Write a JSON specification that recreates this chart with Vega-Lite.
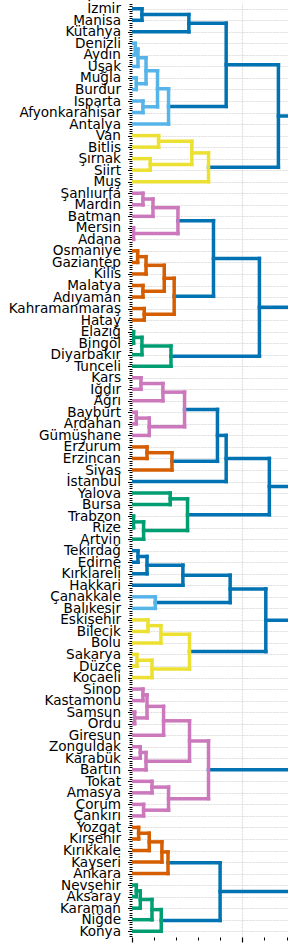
{
  "$schema": "https://vega.github.io/schema/vega-lite/v6.json",
  "autosize": {"type": "none"},
  "padding": {"left": 132, "top": 3, "right": 0, "bottom": 11},
  "width": 156,
  "height": 934,
  "background": "white",
  "config": {
    "view": {"stroke": null},
    "font": "DejaVu Sans"
  },
  "data": {
    "values": [
      {"id": 1, "yl": 0, "hl": 0, "yr": 1, "hr": 0, "h": 0.090, "c": "above"},
      {"id": 2, "yl": 0.5, "hl": 0.090, "yr": 2, "hr": 0, "h": 0.515, "c": "above"},
      {"id": 3, "yl": 3, "hl": 0, "yr": 4, "hr": 0, "h": 0.030, "c": "C1"},
      {"id": 4, "yl": 3.5, "hl": 0.030, "yr": 5, "hr": 0, "h": 0.054, "c": "C1"},
      {"id": 5, "yl": 6, "hl": 0, "yr": 7, "hr": 0, "h": 0.039, "c": "C1"},
      {"id": 6, "yl": 4.25, "hl": 0.054, "yr": 6.5, "hr": 0.039, "h": 0.127, "c": "C1"},
      {"id": 7, "yl": 8, "hl": 0, "yr": 9, "hr": 0, "h": 0.099, "c": "C1"},
      {"id": 8, "yl": 5.375, "hl": 0.127, "yr": 8.5, "hr": 0.099, "h": 0.231, "c": "C1"},
      {"id": 9, "yl": 6.9375, "hl": 0.231, "yr": 10, "hr": 0, "h": 0.331, "c": "C1"},
      {"id": 10, "yl": 1.25, "hl": 0.515, "yr": 8.46875, "hr": 0.331, "h": 0.853, "c": "above"},
      {"id": 11, "yl": 11, "hl": 0, "yr": 12, "hr": 0, "h": 0.241, "c": "C2"},
      {"id": 12, "yl": 13, "hl": 0, "yr": 14, "hr": 0, "h": 0.165, "c": "C2"},
      {"id": 13, "yl": 11.5, "hl": 0.241, "yr": 13.5, "hr": 0.165, "h": 0.542, "c": "C2"},
      {"id": 14, "yl": 12.5, "hl": 0.542, "yr": 15, "hr": 0, "h": 0.693, "c": "C2"},
      {"id": 15, "yl": 4.859, "hl": 0.853, "yr": 13.75, "hr": 0.693, "h": 1.326, "c": "above"},
      {"id": 16, "yl": 16, "hl": 0, "yr": 17, "hr": 0, "h": 0.099, "c": "C3"},
      {"id": 17, "yl": 16.5, "hl": 0.099, "yr": 18, "hr": 0, "h": 0.190, "c": "C3"},
      {"id": 18, "yl": 19, "hl": 0, "yr": 20, "hr": 0, "h": 0.014, "c": "C3"},
      {"id": 19, "yl": 17.25, "hl": 0.190, "yr": 19.5, "hr": 0.014, "h": 0.416, "c": "C3"},
      {"id": 20, "yl": 21, "hl": 0, "yr": 22, "hr": 0, "h": 0.051, "c": "C4"},
      {"id": 21, "yl": 21.5, "hl": 0.051, "yr": 23, "hr": 0, "h": 0.127, "c": "C4"},
      {"id": 22, "yl": 24, "hl": 0, "yr": 25, "hr": 0, "h": 0.099, "c": "C4"},
      {"id": 23, "yl": 22.25, "hl": 0.127, "yr": 24.5, "hr": 0.099, "h": 0.292, "c": "C4"},
      {"id": 24, "yl": 26, "hl": 0, "yr": 27, "hr": 0, "h": 0.111, "c": "C4"},
      {"id": 25, "yl": 23.375, "hl": 0.292, "yr": 26.5, "hr": 0.111, "h": 0.382, "c": "C4"},
      {"id": 26, "yl": 18.375, "hl": 0.416, "yr": 24.9375, "hr": 0.382, "h": 0.738, "c": "above"},
      {"id": 27, "yl": 28, "hl": 0, "yr": 29, "hr": 0, "h": 0.014, "c": "C5"},
      {"id": 28, "yl": 28.5, "hl": 0.014, "yr": 30, "hr": 0, "h": 0.090, "c": "C5"},
      {"id": 29, "yl": 29.25, "hl": 0.090, "yr": 31, "hr": 0, "h": 0.353, "c": "C5"},
      {"id": 30, "yl": 21.656, "hl": 0.738, "yr": 30.125, "hr": 0.353, "h": 1.154, "c": "above"},
      {"id": 31, "yl": 32, "hl": 0, "yr": 33, "hr": 0, "h": 0.081, "c": "C3"},
      {"id": 32, "yl": 32.5, "hl": 0.081, "yr": 34, "hr": 0, "h": 0.280, "c": "C3"},
      {"id": 33, "yl": 35, "hl": 0, "yr": 36, "hr": 0, "h": 0.039, "c": "C3"},
      {"id": 34, "yl": 35.5, "hl": 0.039, "yr": 37, "hr": 0, "h": 0.156, "c": "C3"},
      {"id": 35, "yl": 33.25, "hl": 0.280, "yr": 36.25, "hr": 0.156, "h": 0.476, "c": "C3"},
      {"id": 36, "yl": 38, "hl": 0, "yr": 39, "hr": 0, "h": 0.136, "c": "C4"},
      {"id": 37, "yl": 38.5, "hl": 0.136, "yr": 40, "hr": 0, "h": 0.362, "c": "C4"},
      {"id": 38, "yl": 34.75, "hl": 0.476, "yr": 39.25, "hr": 0.362, "h": 0.774, "c": "above"},
      {"id": 39, "yl": 37, "hl": 0.774, "yr": 41, "hr": 0, "h": 0.853, "c": "above"},
      {"id": 40, "yl": 42, "hl": 0, "yr": 43, "hr": 0, "h": 0.346, "c": "C5"},
      {"id": 41, "yl": 44, "hl": 0, "yr": 45, "hr": 0, "h": 0.014, "c": "C5"},
      {"id": 42, "yl": 44.5, "hl": 0.014, "yr": 46, "hr": 0, "h": 0.105, "c": "C5"},
      {"id": 43, "yl": 42.5, "hl": 0.346, "yr": 45.25, "hr": 0.105, "h": 0.503, "c": "C5"},
      {"id": 44, "yl": 39, "hl": 0.853, "yr": 43.875, "hr": 0.503, "h": 1.244, "c": "above"},
      {"id": 45, "yl": 47, "hl": 0, "yr": 48, "hr": 0, "h": 0.054, "c": "above"},
      {"id": 46, "yl": 47.5, "hl": 0.054, "yr": 49, "hr": 0, "h": 0.136, "c": "above"},
      {"id": 47, "yl": 48.25, "hl": 0.136, "yr": 50, "hr": 0, "h": 0.461, "c": "above"},
      {"id": 48, "yl": 51, "hl": 0, "yr": 52, "hr": 0, "h": 0.211, "c": "C1"},
      {"id": 49, "yl": 49.125, "hl": 0.461, "yr": 51.5, "hr": 0.211, "h": 0.889, "c": "above"},
      {"id": 50, "yl": 53, "hl": 0, "yr": 54, "hr": 0, "h": 0.145, "c": "C2"},
      {"id": 51, "yl": 53.5, "hl": 0.145, "yr": 55, "hr": 0, "h": 0.262, "c": "C2"},
      {"id": 52, "yl": 56, "hl": 0, "yr": 57, "hr": 0, "h": 0.045, "c": "C2"},
      {"id": 53, "yl": 56.5, "hl": 0.045, "yr": 58, "hr": 0, "h": 0.181, "c": "C2"},
      {"id": 54, "yl": 54.25, "hl": 0.262, "yr": 57.25, "hr": 0.181, "h": 0.521, "c": "C2"},
      {"id": 55, "yl": 50.3125, "hl": 0.889, "yr": 55.75, "hr": 0.521, "h": 1.212, "c": "above"},
      {"id": 56, "yl": 59, "hl": 0, "yr": 60, "hr": 0, "h": 0.099, "c": "C3"},
      {"id": 57, "yl": 61, "hl": 0, "yr": 62, "hr": 0, "h": 0.024, "c": "C3"},
      {"id": 58, "yl": 59.5, "hl": 0.099, "yr": 61.5, "hr": 0.024, "h": 0.136, "c": "C3"},
      {"id": 59, "yl": 60.5, "hl": 0.136, "yr": 63, "hr": 0, "h": 0.286, "c": "C3"},
      {"id": 60, "yl": 64, "hl": 0, "yr": 65, "hr": 0, "h": 0.075, "c": "C3"},
      {"id": 61, "yl": 64.5, "hl": 0.075, "yr": 66, "hr": 0, "h": 0.127, "c": "C3"},
      {"id": 62, "yl": 61.75, "hl": 0.286, "yr": 65.25, "hr": 0.127, "h": 0.521, "c": "C3"},
      {"id": 63, "yl": 67, "hl": 0, "yr": 68, "hr": 0, "h": 0.181, "c": "C3"},
      {"id": 64, "yl": 69, "hl": 0, "yr": 70, "hr": 0, "h": 0.105, "c": "C3"},
      {"id": 65, "yl": 67.5, "hl": 0.181, "yr": 69.5, "hr": 0.105, "h": 0.331, "c": "C3"},
      {"id": 66, "yl": 63.5, "hl": 0.521, "yr": 68.5, "hr": 0.331, "h": 0.693, "c": "C3"},
      {"id": 67, "yl": 71, "hl": 0, "yr": 72, "hr": 0, "h": 0.060, "c": "C4"},
      {"id": 68, "yl": 71.5, "hl": 0.060, "yr": 73, "hr": 0, "h": 0.156, "c": "C4"},
      {"id": 69, "yl": 72.25, "hl": 0.156, "yr": 74, "hr": 0, "h": 0.271, "c": "C4"},
      {"id": 70, "yl": 73.125, "hl": 0.271, "yr": 75, "hr": 0, "h": 0.326, "c": "C4"},
      {"id": 71, "yl": 76, "hl": 0, "yr": 77, "hr": 0, "h": 0.039, "c": "C5"},
      {"id": 72, "yl": 76.5, "hl": 0.039, "yr": 78, "hr": 0, "h": 0.075, "c": "C5"},
      {"id": 73, "yl": 77.25, "hl": 0.075, "yr": 79, "hr": 0, "h": 0.181, "c": "C5"},
      {"id": 74, "yl": 78.125, "hl": 0.181, "yr": 80, "hr": 0, "h": 0.265, "c": "C5"},
      {"id": 75, "yl": 74.0625, "hl": 0.326, "yr": 79.0625, "hr": 0.265, "h": 0.798, "c": "above"},
      {"id": 76, "yl": 25.89, "hl": 1.154, "yr": 41.4375, "hr": 1.244, "h": 1.6, "c": "above"},
      {"id": 77, "yl": 9.305, "hl": 1.326, "yr": 33.66, "hr": 1.6, "h": 1.9, "c": "above"},
      {"id": 78, "yl": 66, "hl": 0.693, "yr": 76.5625, "hr": 0.798, "h": 1.5, "c": "above"},
      {"id": 79, "yl": 53.03, "hl": 1.212, "yr": 71.28, "hr": 1.5, "h": 1.7, "c": "above"},
      {"id": 80, "yl": 21.48, "hl": 1.9, "yr": 62.16, "hr": 1.7, "h": 2.2, "c": "above"}
    ]
  },
  "encoding": {
    "color": {
      "field": "c",
      "type": "nominal",
      "legend": null,
      "scale": {
        "domain": ["above", "C1", "C2", "C3", "C4", "C5"],
        "range": ["#0173b2", "#56b4e9", "#ece133", "#cc78bc", "#d55e00", "#029e73"]
      }
    }
  },
  "layer": [
    {
      "mark": {"type": "rule", "strokeWidth": 3.5, "strokeCap": "square", "clip": true},
      "encoding": {
        "x": {
          "field": "hl",
          "type": "quantitative",
          "scale": {"domain": [0, 1.413], "nice": false, "zero": false},
          "axis": {
            "title": null,
            "orient": "bottom",
            "tickCount": 7,
            "labels": false,
            "domain": false,
            "tickColor": "black",
            "tickSize": {"condition": {"test": "datum.value === 0 || datum.value === 1", "value": 5}, "value": 3},
            "tickWidth": {"condition": {"test": "datum.value === 0 || datum.value === 1", "value": 1.2}, "value": 1},
            "grid": true,
            "gridColor": "#dddddd",
            "gridDash": [2, 1],
            "gridWidth": 1.2,
            "gridOpacity": {"condition": {"test": "datum.value === 1", "value": 1}, "value": 0}
          }
        },
        "x2": {"field": "h"},
        "y": {
          "field": "yl",
          "type": "quantitative",
          "scale": {"domain": [-0.5, 80.5], "nice": false, "zero": false, "reverse": true},
          "axis": {
            "title": null,
            "orient": "left",
            "tickCount": 405,
            "domain": false,
            "labelOverlap": false,
            "labelBound": false,
            "labelFlush": false,
            "labelFont": "DejaVu Sans",
            "labelFontSize": 13.6,
            "labelColor": "black",
            "labelPadding": 7,
            "labelExpr": "datum.value % 1 === 0 ? ['İzmir','Manisa','Kütahya','Denizli','Aydın','Uşak','Muğla','Burdur','Isparta','Afyonkarahisar','Antalya','Van','Bitlis','Şırnak','Siirt','Muş','Şanlıurfa','Mardin','Batman','Mersin','Adana','Osmaniye','Gaziantep','Kilis','Malatya','Adıyaman','Kahramanmaraş','Hatay','Elazığ','Bingöl','Diyarbakır','Tunceli','Kars','Iğdır','Ağrı','Bayburt','Ardahan','Gümüşhane','Erzurum','Erzincan','Sivas','İstanbul','Yalova','Bursa','Trabzon','Rize','Artvin','Tekirdağ','Edirne','Kırklareli','Hakkari','Çanakkale','Balıkesir','Eskişehir','Bilecik','Bolu','Sakarya','Düzce','Kocaeli','Sinop','Kastamonu','Samsun','Ordu','Giresun','Zonguldak','Karabük','Bartın','Tokat','Amasya','Çorum','Çankırı','Yozgat','Kırşehir','Kırıkkale','Kayseri','Ankara','Nevşehir','Aksaray','Karaman','Niğde','Konya'][datum.value] : ''",
            "tickColor": "black",
            "tickSize": {"condition": {"test": "datum.value % 1 === 0", "value": 4.5}, "value": 3},
            "tickWidth": 1,
            "grid": true,
            "gridColor": "#dddddd",
            "gridDash": [2, 1],
            "gridWidth": 1.2,
            "gridOpacity": {"condition": {"test": "datum.value % 1 === 0", "value": 1}, "value": 0}
          }
        }
      }
    },
    {
      "mark": {"type": "rule", "strokeWidth": 3.5, "strokeCap": "square", "clip": true},
      "encoding": {
        "x": {"field": "hr", "type": "quantitative"},
        "x2": {"field": "h"},
        "y": {"field": "yr", "type": "quantitative"}
      }
    },
    {
      "mark": {"type": "rule", "strokeWidth": 3.5, "strokeCap": "square", "clip": true},
      "encoding": {
        "x": {"field": "h", "type": "quantitative"},
        "y": {"field": "yl", "type": "quantitative"},
        "y2": {"field": "yr"}
      }
    }
  ]
}
